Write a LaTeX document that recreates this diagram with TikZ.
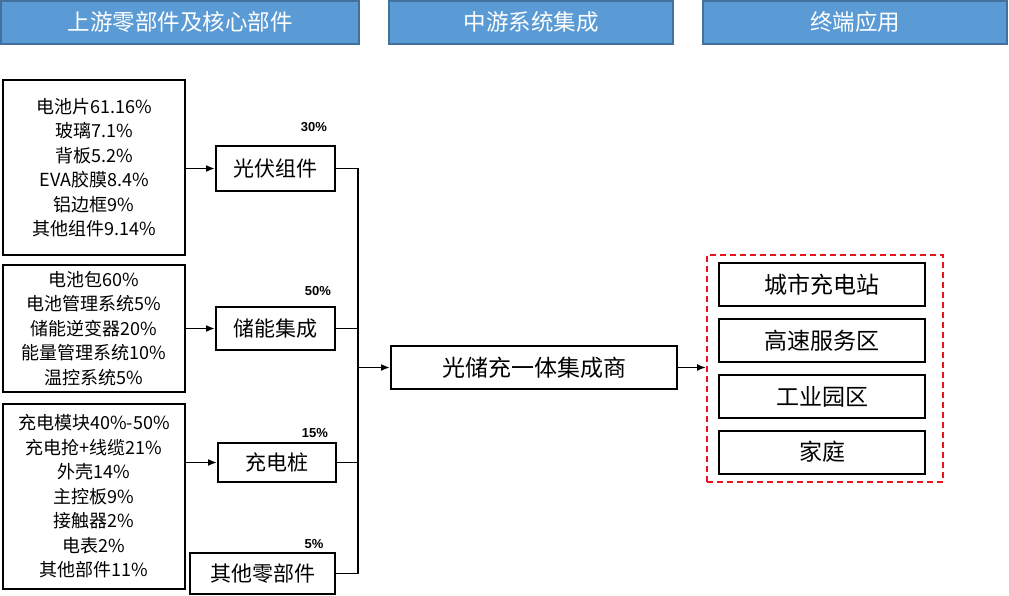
\documentclass[tikz,border=0pt]{standalone}
\usepackage{fontspec}
\setmainfont{Noto Sans CJK SC}
\newfontfamily\pctfont{Liberation Sans}
\usetikzlibrary{arrows.meta}
\definecolor{hdrblue}{HTML}{5B9BD5}
\definecolor{hdredge}{HTML}{41719C}
\definecolor{dashred}{HTML}{E8141B}

\begin{document}
\begin{tikzpicture}[x=1pt,y=-1pt,
  hdr/.style={draw=hdredge,fill=hdrblue,line width=2pt,text=white,inner sep=0pt,
    minimum height=43pt,font=\fontsize{22.5}{22.5}\selectfont},
  part/.style={draw,line width=2pt,inner sep=0pt,align=center,minimum width=182pt,
    font=\fontsize{18}{24.5}\selectfont},
  unit/.style={draw,line width=2pt,inner sep=0pt,font=\fontsize{21}{21}\selectfont},
  pct/.style={inner sep=0pt,font=\pctfont\bfseries\fontsize{13}{13}\selectfont},
  link/.style={line width=1.8pt},
  feed/.style={line width=1.8pt,-{Latex[length=9pt,width=7pt]}}]
%  \draw[step=50,gray,very thin] (0,0) grid (1009,595);	% for debug
  \useasboundingbox (0,0) rectangle (1009,595);
  % headers
  \node[hdr,minimum width=358pt] (hup) at (180,22) {上游零部件及核心部件};
  \node[hdr,minimum width=284pt] (hmid) at (531,22) {中游系统集成};
  \node[hdr,minimum width=304pt] (hend) at (855,22) {终端应用};
  % upstream parts
  \node[part,minimum height=175pt] (pv) at (94,167.5)
    {电池片61.16\%\\玻璃7.1\%\\背板5.2\%\\EVA胶膜8.4\%\\铝边框9\%\\其他组件9.14\%};
  \node[part,minimum height=127pt] (es) at (94,328.5)
    {电池包60\%\\电池管理系统5\%\\储能逆变器20\%\\能量管理系统10\%\\温控系统5\%};
  \node[part,minimum height=185pt] (ch) at (94,496.5)
    {充电模块40\%-50\%\\充电抢+线缆21\%\\外壳14\%\\主控板9\%\\接触器2\%\\电表2\%\\其他部件11\%};
  % components
  \node[unit,minimum width=119pt,minimum height=45pt] (upv) at (275.5,168.5) {光伏组件};
  \node[unit,minimum width=119pt,minimum height=43pt] (ues) at (275.5,328.5) {储能集成};
  \node[unit,minimum width=118pt,minimum height=39pt] (uch) at (277,462.5) {充电桩};
  \node[unit,minimum width=145pt,minimum height=41pt] (uot) at (262.5,573.5) {其他零部件};
  % shares
  \node[pct] (spv) at (314,127) {30\%};
  \node[pct] (ses) at (318,291) {50\%};
  \node[pct] (sch) at (315,433) {15\%};
  \node[pct] (sot) at (314,544) {5\%};
  % bus
  \coordinate (btop) at (358,168.5);
  \coordinate (bbot) at (358,573.5);
  \coordinate (bmid) at (358,367.5);
  \draw[link] (upv.east) -- (btop) -- (bbot) -- (uot.east);
  \draw[link] (ues.east) -- (ues.east -| bmid);
  \draw[link] (uch.east) -- (uch.east -| bmid);
  \foreach \a/\b in {pv/upv, es/ues, ch/uch} {
    \draw[feed] (\a.east |- \b.west) -- (\b.west);
  };
  % integrator
  \node[unit,minimum width=286pt,minimum height=43pt,font=\fontsize{23}{23}\selectfont]
    (mid) at (534,367.5) {光储充一体集成商};
  \draw[feed] (bmid) -- (mid.west);
  % end uses
  \node[draw=dashred,dash pattern=on 6pt off 4pt,line width=1.8pt,minimum width=236pt,
    minimum height=227pt,inner sep=0pt] (grp) at (825,368.5) {};
  \foreach \t/\y [count=\i] in {城市充电站/284.5, 高速服务区/340.5, 工业园区/396.5, 家庭/452} {
    \node[unit,minimum width=206pt,minimum height=43pt,font=\fontsize{23}{23}\selectfont]
      (use\i) at (822,\y) {\t};
  };
  \draw[feed] (mid.east) -- (mid.east -| grp.west);
\end{tikzpicture}
\end{document}
